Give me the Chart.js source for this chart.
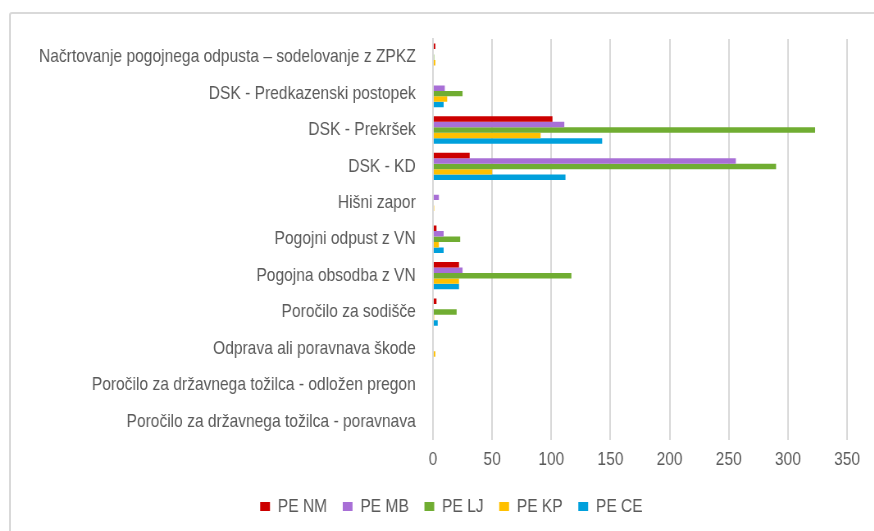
<!DOCTYPE html>
<html lang="sl">
<head>
    <meta charset="UTF-8">
    <title>PE chart</title>
    <script src="https://cdn.jsdelivr.net/npm/chart.js"></script>
    <style>
        body {
            margin: 0;
            padding: 0;
            width: 874px;
            height: 531px;
            overflow: hidden;
            background: #ffffff;
            position: relative;
        }
        .frame {
            position: absolute;
            left: 9px;
            top: 12px;
            width: 900px;
            height: 560px;
            border: 2px solid #d9d9d9;
            border-radius: 3px;
        }
        /* the original picture is squeezed sideways, so the chart is drawn wider and scaled back */
        .chart-box {
            position: absolute;
            left: 0;
            top: 0;
            width: 1066px;
            height: 531px;
            transform: scaleX(0.82);
            transform-origin: 0 0;
        }
    </style>
</head>
<body>
<div class="frame"></div>
<div class="chart-box"><canvas id="peChart"></canvas></div>

<script>
    const categories = [
        'Načrtovanje pogojnega odpusta – sodelovanje z ZPKZ',
        'DSK - Predkazenski postopek',
        'DSK - Prekršek',
        'DSK - KD',
        'Hišni zapor',
        'Pogojni odpust z VN',
        'Pogojna obsodba z VN',
        'Poročilo za sodišče',
        'Odprava ali poravnava škode',
        'Poročilo za državnega tožilca - odložen pregon',
        'Poročilo za državnega tožilca - poravnava'
    ];

    const seriesNames = ['PE NM', 'PE MB', 'PE LJ', 'PE KP', 'PE CE'];
    const seriesColors = ['#cc0000', '#a86fd6', '#70ad32', '#ffc000', '#00a0dc'];

    const peNM = [2, 0, 101, 31, 0, 3, 22, 3, 0, 0, 0];
    const peMB = [0, 10, 111, 256, 5, 9, 25, 0, 0, 0, 0];
    const peLJ = [1, 25, 323, 290, 0, 23, 117, 20, 0, 0, 0];
    const peKP = [2, 12, 91, 50, 1, 5, 22, 1, 2, 0, 0];
    const peCE = [0, 9, 143, 112, 0, 9, 22, 4, 0, 0, 0];

    const xTicksMax = 350;
    const xTicksStep = 50;

    const textColor = '#595959';
    const fontFamily = '"Liberation Sans", Arial, sans-serif';

    const allSeries = [peNM, peMB, peLJ, peKP, peCE];

    // legend sits a bit right of the canvas centre in the original
    const legendShift = {
        id: 'legendShift',
        afterLayout(chart) {
            chart.legend.left += 34;
            chart.legend.right += 34;
        }
    };

    const ctx = document.getElementById('peChart').getContext('2d');
    new Chart(ctx, {
        type: 'bar',
        data: {
            labels: categories,
            datasets: allSeries.map((values, i) => ({
                label: seriesNames[i],
                data: values,
                backgroundColor: seriesColors[i],
                borderWidth: 0,
                categoryPercentage: 0.75,
                barPercentage: 1.0
            }))
        },
        options: {
            indexAxis: 'y',
            responsive: true,
            maintainAspectRatio: false,
            animation: false,
            layout: {
                padding: { left: 0, right: 33, top: 39, bottom: 5 }
            },
            plugins: {
                legend: {
                    position: 'bottom',
                    labels: {
                        boxWidth: 12,
                        boxHeight: 9,
                        padding: 19,
                        color: textColor,
                        font: { family: fontFamily, size: 19 }
                    }
                },
                tooltip: { enabled: false }
            },
            scales: {
                x: {
                    min: 0,
                    max: xTicksMax,
                    afterFit: scale => { scale.height = 38.5; },
                    ticks: {
                        stepSize: xTicksStep,
                        padding: 9,
                        color: textColor,
                        font: { family: fontFamily, size: 19 }
                    },
                    grid: {
                        color: '#d9d9d9',
                        lineWidth: 2,
                        drawTicks: false
                    },
                    border: { display: false }
                },
                y: {
                    afterFit: scale => { scale.width = 528; },
                    ticks: {
                        padding: 21,
                        color: textColor,
                        font: { family: fontFamily, size: 19 }
                    },
                    grid: { display: false, drawTicks: false },
                    border: { color: '#d9d9d9', width: 2 }
                }
            }
        },
        plugins: [legendShift]
    });
</script>
</body>
</html>
